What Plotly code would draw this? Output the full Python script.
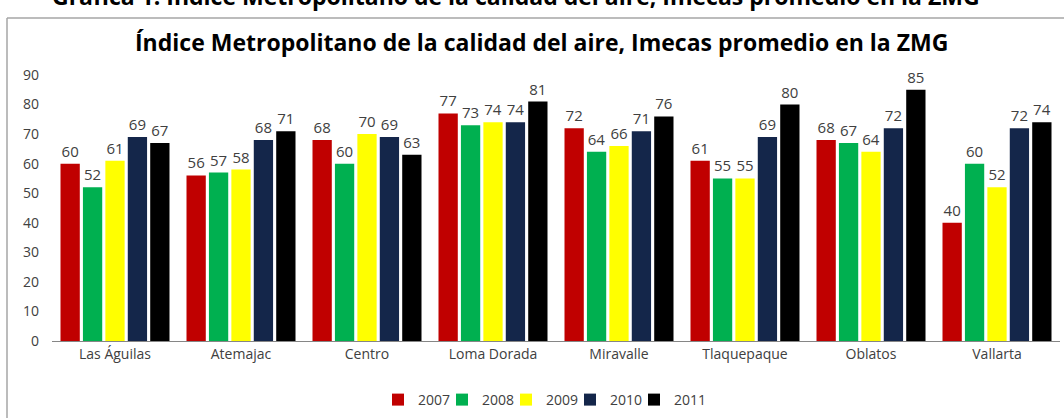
import plotly.graph_objects as go

categories = ["Las Águilas", "Atemajac", "Centro", "Loma Dorada", "Miravalle",
              "Tlaquepaque", "Oblatos", "Vallarta"]
years = ["2007", "2008", "2009", "2010", "2011"]
v2007 = [60, 56, 68, 77, 72, 61, 68, 40]
v2008 = [52, 57, 60, 73, 64, 55, 67, 60]
v2009 = [61, 58, 70, 74, 66, 55, 64, 52]
v2010 = [69, 68, 69, 74, 71, 69, 72, 72]
v2011 = [67, 71, 63, 81, 76, 80, 85, 74]
series = [v2007, v2008, v2009, v2010, v2011]
colors = ["#C00000", "#00B050", "#FFFF00", "#14264A", "#000000"]
y_ticks = [0, 10, 20, 30, 40, 50, 60, 70, 80, 90]

FONT = "Open Sans"
W, H = 1064, 418
ML, MR, MT, MB = 52, 4, 75, 77
PW, PH = W - ML - MR, H - MT - MB

def px(x):
    return (x - ML) / PW

def py(y):
    return (H - MB - y) / PH

fig = go.Figure()
for yr, vals, c in zip(years, series, colors):
    fig.add_trace(go.Bar(
        name=yr, x=categories, y=vals, marker=dict(color=c, line=dict(width=0)),
        text=[str(v) for v in vals], textposition="outside",
        textfont=dict(family=FONT, size=15, color="#404040"),
        cliponaxis=False,
    ))
# empty spacer entry so the last legend label is not clipped
fig.add_trace(go.Scatter(x=[None], y=[None], mode="markers", name=" ",
                         marker=dict(color="rgba(0,0,0,0)", size=1), hoverinfo="skip"))

fig.update_layout(
    width=W, height=H,
    margin=dict(l=ML, r=MR, t=MT, b=MB, autoexpand=False),
    paper_bgcolor="white", plot_bgcolor="white",
    barmode="group", bargap=0.11, bargroupgap=0.14,
    font=dict(family=FONT, color="#404040"),
    showlegend=True,
    legend=dict(orientation="h", x=px(378), xanchor="left", y=py(400), yanchor="middle",
                font=dict(family=FONT, size=14, color="#404040"),
                itemwidth=30, entrywidth=19, tracegroupgap=0),
    xaxis=dict(showline=True, linecolor="#868686", linewidth=1, ticks="",
               tickfont=dict(family=FONT, size=14, color="#404040"), showgrid=False),
    yaxis=dict(range=[0, 90], tickvals=y_ticks, showgrid=False, showline=False,
               zeroline=False, ticks="", ticklabelstandoff=12,
               tickfont=dict(family=FONT, size=14, color="#404040")),
    annotations=[
        dict(text="<b>Índice Metropolitano de la calidad del aire, Imecas promedio en la ZMG</b>",
             xref="paper", yref="paper", x=px(541), y=py(42), xanchor="center", yanchor="middle",
             showarrow=False, font=dict(family=FONT, size=23, color="#000000")),
        dict(text="<b>Gráfica 1. Índice Metropolitano de la calidad del aire, Imecas promedio en la ZMG</b>",
             xref="paper", yref="paper", x=px(50), y=py(14), xanchor="left", yanchor="bottom",
             showarrow=False, font=dict(family=FONT, size=23, color="#000000")),
    ],
    shapes=[
        dict(type="line", xref="paper", yref="paper", x0=px(7), x1=px(7), y0=py(18), y1=py(420),
             line=dict(color="#A6A6A6", width=1.5)),
        dict(type="line", xref="paper", yref="paper", x0=px(7), x1=px(1066), y0=py(18), y1=py(18),
             line=dict(color="#A6A6A6", width=1.5)),
    ],
)

fig.write_html("out.html", config={"displayModeBar": False},
               post_script="document.body.style.margin='0';document.body.style.padding='0';")
